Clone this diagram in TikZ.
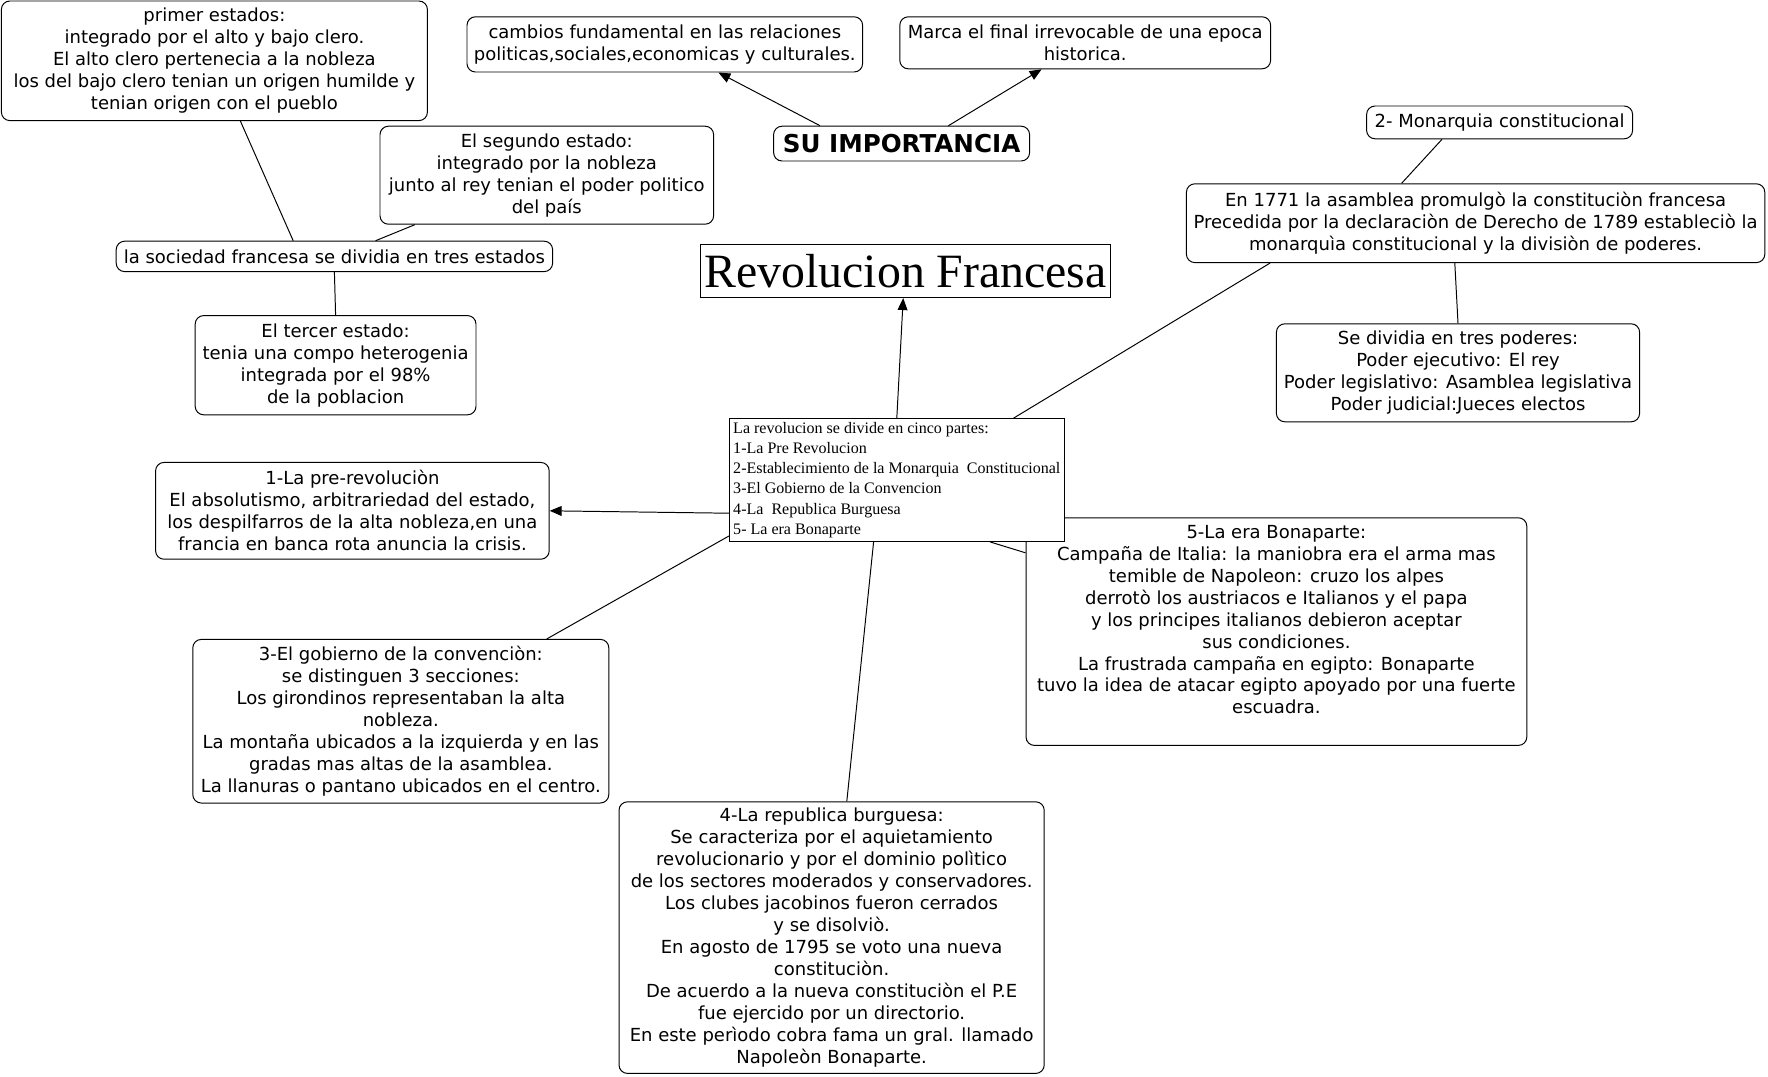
\documentclass[tikz,border=0pt]{standalone}
\usepackage{fontspec}
\setmainfont{DejaVu Sans}
\newfontfamily\serifa{Liberation Serif}
\usetikzlibrary{arrows.meta}
\begin{document}
\begin{tikzpicture}[line width=0.7pt,
  caja/.style={draw, rounded corners=6pt, align=center, inner sep=2pt,
    font=\fontsize{12.8}{15.6}\selectfont},
  flecha/.style={-{Triangle[length=8.5pt,width=7pt]}}]
\useasboundingbox (0,0) rectangle (44.2,-26.92);
\node[caja, minimum width=10.65cm, minimum height=2.99cm] (primer) at (5.36,-1.52)
  {primer estados:\\ integrado por el alto y bajo clero.\\ El alto clero pertenecia a la nobleza\\ los del bajo clero tenian un origen humilde y\\ tenian origen con el pueblo};
\node[caja, minimum width=9.89cm, minimum height=1.38cm] (cambios) at (16.62,-1.11)
  {cambios fundamental en las relaciones\\ politicas,sociales,economicas y culturales.};
\node[caja, minimum width=9.27cm, minimum height=1.30cm] (marca) at (27.13,-1.07)
  {Marca el final irrevocable de una epoca\\ historica.};
\node[caja, minimum width=6.40cm, minimum height=0.87cm, font=\bfseries\fontsize{17.5}{20}\selectfont] (importancia) at (22.54,-3.59)
  {SU IMPORTANCIA};
\node[caja, minimum width=8.34cm, minimum height=2.45cm] (segundo) at (13.67,-4.38)
  {El segundo estado:\\ integrado por la nobleza\\ junto al rey tenian el poder politico\\ del país};
\node[caja, minimum width=10.91cm, minimum height=0.76cm] (sociedad) at (8.36,-6.41)
  {la sociedad francesa se dividia en tres estados};
\node[caja, minimum width=7.02cm, minimum height=2.48cm] (tercer) at (8.39,-9.13)
  {El tercer estado:\\ tenia una compo heterogenia\\ integrada por el 98\%\\ de la poblacion};
\node[draw, minimum width=10.26cm, minimum height=1.32cm, inner sep=1pt,
  font=\serifa\fontsize{34}{40}\selectfont] (titulo) at (22.64,-6.78)
  {Revolucion Francesa};
\node[caja, minimum width=6.65cm, minimum height=0.82cm] (monarquia) at (37.49,-3.06)
  {2- Monarquia constitucional};
\node[caja, minimum width=14.46cm, minimum height=1.97cm] (asamblea) at (36.89,-5.58)
  {En 1771 la asamblea promulgò la constituciòn francesa\\ Precedida por la declaraciòn de Derecho de 1789 estableciò la\\ monarquìa constitucional y la divisiòn de poderes.};
\node[caja, minimum width=9.08cm, minimum height=2.45cm] (poderes) at (36.45,-9.32)
  {Se dividia en tres poderes:\\ Poder ejecutivo: El rey\\ Poder legislativo: Asamblea legislativa\\ Poder judicial:Jueces electos};
\node[caja, minimum width=9.84cm, minimum height=2.42cm] (pre) at (8.81,-12.77)
  {1-La pre-revoluciòn\\ El absolutismo, arbitrariedad del estado,\\ los despilfarros de la alta nobleza,en una\\ francia en banca rota anuncia la crisis.};
\node[caja, minimum width=12.52cm, minimum height=5.69cm] (bonaparte) at (31.91,-15.79)
  {5-La era Bonaparte:\\ Campaña de Italia: la maniobra era el arma mas\\ temible de Napoleon: cruzo los alpes\\ derrotò los austriacos e Italianos y el papa\\ y los principes italianos debieron aceptar\\ sus condiciones.\\ La frustrada campaña en egipto: Bonaparte\\ tuvo la idea de atacar egipto apoyado por una fuerte\\ escuadra.\rule[-6mm]{0pt}{6mm}};
\node[draw, fill=white, align=left, minimum width=8.37cm, minimum height=3.07cm, inner sep=2pt,
  font=\serifa\fontsize{11.4}{14.4}\selectfont] (partes) at (22.42,-12.0)
  {La revolucion se divide en cinco partes:\\ 1-La Pre Revolucion\\ 2-Establecimiento de la Monarquia~ Constitucional\\ 3-El Gobierno de la Convencion\\ 4-La~ Republica Burguesa\\ 5- La era Bonaparte};
\node[caja, minimum width=10.40cm, minimum height=4.09cm] (convencion) at (10.02,-18.03)
  {3-El gobierno de la convenciòn:\\ se distinguen 3 secciones:\\ Los girondinos representaban la alta\\ nobleza.\\ La montaña ubicados a la izquierda y en las\\ gradas mas altas de la asamblea.\\ La llanuras o pantano ubicados en el centro.};
\node[caja, minimum width=10.63cm, minimum height=6.79cm] (republica) at (20.79,-23.44)
  {4-La republica burguesa:\\ Se caracteriza por el aquietamiento\\ revolucionario y por el dominio polìtico\\ de los sectores moderados y conservadores.\\ Los clubes jacobinos fueron cerrados\\ y se disolviò.\\ En agosto de 1795 se voto una nueva\\ constituciòn.\\ De acuerdo a la nueva constituciòn el P.E\\ fue ejercido por un directorio.\\ En este perìodo cobra fama un gral. llamado\\ Napoleòn Bonaparte.};
\draw ([xshift=0.65cm]primer.south) -- ([xshift=-1.03cm]sociedad.north);
\draw ([xshift=-3.30cm]segundo.south) -- ([xshift=1.03cm]sociedad.north);
\draw (sociedad.south) -- (tercer.north);
\draw[flecha] ([xshift=-2.04cm]importancia.north) -- ([xshift=1.34cm]cambios.south);
\draw[flecha] ([xshift=1.17cm]importancia.north) -- ([xshift=-1.09cm]marca.south);
\draw ([xshift=-1.44cm]monarquia.south) -- ([xshift=-1.85cm]asamblea.north);
\draw ([xshift=-5.14cm]asamblea.south) -- ([xshift=2.92cm]partes.north);
\draw ([xshift=-0.52cm]asamblea.south) -- (poderes.north);
\draw[flecha] (partes.north) -- ([xshift=-0.06cm]titulo.south);
\draw[flecha] ([yshift=-0.83cm]partes.west) -- (pre.east);
\draw ([yshift=-1.40cm]partes.west) -- ([xshift=3.65cm]convencion.north);
\draw ([xshift=-0.58cm]partes.south) -- ([xshift=0.38cm]republica.north);
\draw ([xshift=2.33cm]partes.south) -- ([yshift=1.97cm]bonaparte.west);
\end{tikzpicture}
\end{document}
